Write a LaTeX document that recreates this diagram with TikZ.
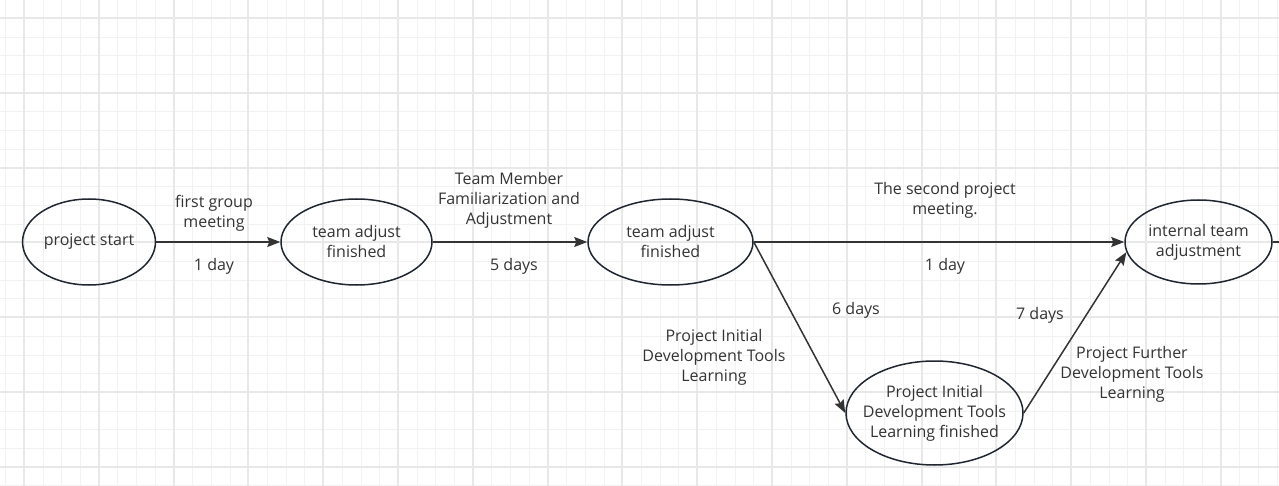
\documentclass[tikz,border=0pt]{standalone}
\usepackage{fontspec}
\setmainfont{Open Sans}
\usetikzlibrary{shapes.geometric,arrows.meta}
\definecolor{txt}{HTML}{333333}
\definecolor{edge}{HTML}{1F2630}
\definecolor{gminor}{HTML}{F2F2F2}
\definecolor{gmajor}{HTML}{E8E8E8}
\tikzset{
  ev/.style={ellipse, draw=edge, line width=1.5pt, inner xsep=-15pt, inner ysep=-10pt, align=center, text=txt,
    font=\fontsize{16}{20}\selectfont},
  lbl/.style={align=center, text=txt, inner sep=0pt, font=\fontsize{16}{20}\selectfont},
  conn/.style={draw=txt, line width=1.5pt, -{Stealth[length=13pt,width=10pt,inset=2pt]}},
}
\begin{document}
\begin{tikzpicture}[x=1pt,y=-1pt]
\useasboundingbox (0,0) rectangle (1279,486);
% grid
\foreach \i in {0,...,69} {
  \pgfmathsetmacro{\gx}{round(5.3+18.7*\i)+0.5}
  \draw[gminor, line width=1pt] (\gx,0) -- (\gx,486);
}
\foreach \i in {0,...,26} {
  \pgfmathsetmacro{\gy}{round(-0.7+18.7*\i)+0.5}
  \draw[gminor, line width=1pt] (0,\gy) -- (1279,\gy);
}
\foreach \i in {0,...,17} {
  \pgfmathsetmacro{\gx}{round(24+74.8*\i)}
  \draw[gmajor, line width=2pt] (\gx,0) -- (\gx,486);
}
\foreach \i in {0,...,6} {
  \pgfmathsetmacro{\gy}{round(18+74.8*\i)}
  \draw[gmajor, line width=2pt] (0,\gy) -- (1279,\gy);
}
% events
\node[ev, minimum width=133pt, minimum height=86pt] (e1) at (89,242) {project start};
\node[ev, minimum width=151pt, minimum height=86pt] (e2) at (356.5,242) {team adjust\\finished};
\node[ev, minimum width=165pt, minimum height=86pt] (e3) at (670.5,242) {team adjust\\finished};
\node[ev, minimum width=147pt, minimum height=84pt] (e4) at (1198.5,242) {internal team\\adjustment};
\node[ev, minimum width=177pt, minimum height=104pt] (e5) at (934.5,413) {Project Initial\\Development Tools\\Learning finished};
\coordinate (out) at (1279,242);
% connectors
\draw[conn] (e1.east) -- (e2.west);
\draw[conn] (e2.east) -- (e3.west);
\draw[conn] (e3.east) -- (e4.west);
\draw[conn] (e3.east) -- (e5.west);
\draw[conn] (e5.east) -- (e4.188);
\draw[draw=txt, line width=1.5pt] (e4.east) -- (out);
% labels
\node[lbl] (l1a) at (214,213.5) {first group\\meeting};
\node[lbl] (l1b) at (214,266) {1 day};
\node[lbl] (l2a) at (509,200.5) {Team Member\\Familiarization and\\Adjustment};
\node[lbl] (l2b) at (514,266) {5 days};
\node[lbl] (l3a) at (945,200) {The second project\\meeting.};
\node[lbl] (l3b) at (945,266) {1 day};
\node[lbl] (l4a) at (856,310) {6 days};
\node[lbl] (l4b) at (714,357) {Project Initial\\Development Tools\\Learning};
\node[lbl] (l5a) at (1040,315) {7 days};
\node[lbl] (l5b) at (1132,374) {Project Further\\Development Tools\\Learning};
\end{tikzpicture}
\end{document}
